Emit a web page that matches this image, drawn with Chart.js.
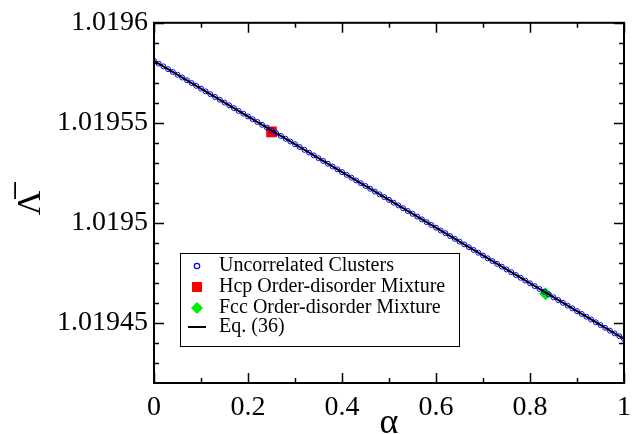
<!DOCTYPE html>
<html>
<head>
<meta charset="utf-8">
<script src="https://cdn.jsdelivr.net/npm/chart.js@4.4.1/dist/chart.umd.min.js"></script>
<style>
  html, body { margin: 0; padding: 0; background: #ffffff; }
  #wrap { width: 639px; height: 434px; }
</style>
</head>
<body>
<div id="wrap"><canvas id="c" width="639" height="434"></canvas></div>
<script>
// ---- data ----
const alphaValues = [
  0.00,0.01,0.02,0.03,0.04,0.05,0.06,0.07,0.08,0.09,
  0.10,0.11,0.12,0.13,0.14,0.15,0.16,0.17,0.18,0.19,
  0.20,0.21,0.22,0.23,0.24,0.25,0.26,0.27,0.28,0.29,
  0.30,0.31,0.32,0.33,0.34,0.35,0.36,0.37,0.38,0.39,
  0.40,0.41,0.42,0.43,0.44,0.45,0.46,0.47,0.48,0.49,
  0.50,0.51,0.52,0.53,0.54,0.55,0.56,0.57,0.58,0.59,
  0.60,0.61,0.62,0.63,0.64,0.65,0.66,0.67,0.68,0.69,
  0.70,0.71,0.72,0.73,0.74,0.75,0.76,0.77,0.78,0.79,
  0.80,0.81,0.82,0.83,0.84,0.85,0.86,0.87,0.88,0.89,
  0.90,0.91,0.92,0.93,0.94,0.95,0.96,0.97,0.98,0.99,
  1.00
];
const uncorrelatedLambda = [
  1.01958100,1.01957961,1.01957822,1.01957683,1.01957544,1.01957405,1.01957266,1.01957127,1.01956988,1.01956849,
  1.01956710,1.01956571,1.01956432,1.01956293,1.01956154,1.01956015,1.01955876,1.01955737,1.01955598,1.01955459,
  1.01955320,1.01955181,1.01955042,1.01954903,1.01954764,1.01954625,1.01954486,1.01954347,1.01954208,1.01954069,
  1.01953930,1.01953791,1.01953652,1.01953513,1.01953374,1.01953235,1.01953096,1.01952957,1.01952818,1.01952679,
  1.01952540,1.01952401,1.01952262,1.01952123,1.01951984,1.01951845,1.01951706,1.01951567,1.01951428,1.01951289,
  1.01951150,1.01951011,1.01950872,1.01950733,1.01950594,1.01950455,1.01950316,1.01950177,1.01950038,1.01949899,
  1.01949760,1.01949621,1.01949482,1.01949343,1.01949204,1.01949065,1.01948926,1.01948787,1.01948648,1.01948509,
  1.01948370,1.01948231,1.01948092,1.01947953,1.01947814,1.01947675,1.01947536,1.01947397,1.01947258,1.01947119,
  1.01946980,1.01946841,1.01946702,1.01946563,1.01946424,1.01946285,1.01946146,1.01946007,1.01945868,1.01945729,
  1.01945590,1.01945451,1.01945312,1.01945173,1.01945034,1.01944895,1.01944756,1.01944617,1.01944478,1.01944339,
  1.01944200
];
const hcpAlpha = [0.25];
const hcpLambda = [1.0195455];
const fccAlpha = [0.8333];
const fccLambda = [1.0194646];
const eqAlpha = [0, 1];
const eqLambda = [1.019581, 1.019442];

const seriesLabels = ['Uncorrelated Clusters', 'Hcp Order-disorder Mixture', 'Fcc Order-disorder Mixture', 'Eq. (36)'];
const xTickValues = [0, 0.2, 0.4, 0.6, 0.8, 1];
const xTickLabels = ['0', '0.2', '0.4', '0.6', '0.8', '1'];
const xMinorTicks = [0.1, 0.3, 0.5, 0.7, 0.9];
const yTickValues = [1.01945, 1.0195, 1.01955, 1.0196];
const yTickLabels = ['1.01945', '1.0195', '1.01955', '1.0196'];
const yMinorTicks = [1.01943, 1.01944, 1.01946, 1.01947, 1.01948, 1.01949, 1.01951, 1.01952, 1.01953, 1.01954, 1.01956, 1.01957, 1.01958, 1.01959];
const xRange = [0, 1];
const yRange = [1.01942, 1.0196];
const xTitle = 'α';
const yTitle = 'Λ\u0305';

const pts = (xs, ys) => xs.map((x, i) => ({x: x, y: ys[i]}));
const SERIF = "'Liberation Serif', 'Times New Roman', serif";

// frame, inward ticks, rotated y title and legend box
const decor = {
  id: 'decor',
  afterDatasetsDraw(chart) {
    const ctx = chart.ctx;
    const a = chart.chartArea;
    const xs = chart.scales.x, ys = chart.scales.y;
    ctx.save();
    ctx.strokeStyle = '#000';
    ctx.lineWidth = 1.5;
    const majL = 10, minL = 5;
    ctx.beginPath();
    xTickValues.forEach(v => {
      const p = Math.round(xs.getPixelForValue(v)) + 0.5;
      ctx.moveTo(p, a.bottom); ctx.lineTo(p, a.bottom - majL);
      ctx.moveTo(p, a.top); ctx.lineTo(p, a.top + majL);
    });
    xMinorTicks.forEach(v => {
      const p = Math.round(xs.getPixelForValue(v)) + 0.5;
      ctx.moveTo(p, a.bottom); ctx.lineTo(p, a.bottom - minL);
      ctx.moveTo(p, a.top); ctx.lineTo(p, a.top + minL);
    });
    yTickValues.forEach(v => {
      const p = Math.round(ys.getPixelForValue(v)) + 0.5;
      ctx.moveTo(a.left, p); ctx.lineTo(a.left + majL, p);
      ctx.moveTo(a.right, p); ctx.lineTo(a.right - majL, p);
    });
    yMinorTicks.forEach(v => {
      const p = Math.round(ys.getPixelForValue(v)) + 0.5;
      ctx.moveTo(a.left, p); ctx.lineTo(a.left + minL, p);
      ctx.moveTo(a.right, p); ctx.lineTo(a.right - minL, p);
    });
    ctx.stroke();
    ctx.lineWidth = 2;
    ctx.strokeRect(a.left, a.top, a.right - a.left, a.bottom - a.top);

    // y-axis title, rotated a quarter turn counter-clockwise
    ctx.save();
    ctx.translate(31, (a.top + a.bottom) / 2);
    ctx.rotate(-Math.PI / 2);
    ctx.font = '34px ' + SERIF;
    ctx.textAlign = 'center';
    ctx.textBaseline = 'middle';
    ctx.fillStyle = '#000';
    ctx.fillText(yTitle, 0, 0);
    ctx.restore();

    // legend
    const bx = 180.5, by = 253.5, bw = 279, bh = 93;
    ctx.fillStyle = '#fff';
    ctx.fillRect(bx, by, bw, bh);
    ctx.lineWidth = 1;
    ctx.strokeStyle = '#000';
    ctx.strokeRect(bx, by, bw, bh);
    const rows = [266, 287, 308, 327];
    const sx = 197, tx = 219;
    ctx.font = '20px ' + SERIF;
    ctx.textBaseline = 'middle';
    ctx.textAlign = 'left';
    ctx.fillStyle = '#000';
    seriesLabels.forEach((t, i) => ctx.fillText(t, tx, rows[i]));
    // symbols
    ctx.strokeStyle = '#0000ff'; ctx.lineWidth = 1.2;
    ctx.beginPath(); ctx.arc(sx, rows[0], 2.7, 0, Math.PI * 2); ctx.stroke();
    ctx.fillStyle = '#ff0000';
    ctx.fillRect(sx - 5, rows[1] - 5, 10, 10);
    ctx.fillStyle = '#00ee00';
    ctx.beginPath();
    ctx.moveTo(sx, rows[2] - 6); ctx.lineTo(sx + 6, rows[2]); ctx.lineTo(sx, rows[2] + 6); ctx.lineTo(sx - 6, rows[2]);
    ctx.closePath(); ctx.fill();
    ctx.strokeStyle = '#000'; ctx.lineWidth = 2;
    ctx.beginPath(); ctx.moveTo(sx - 9, rows[3]); ctx.lineTo(sx + 9, rows[3]); ctx.stroke();
    ctx.restore();
  }
};

new Chart(document.getElementById('c'), {
  type: 'scatter',
  data: {
    datasets: [
      { type: 'line', label: seriesLabels[3], data: pts(eqAlpha, eqLambda), borderColor: '#000', borderWidth: 2, pointRadius: 0, fill: false, order: 0 },
      { label: seriesLabels[0], data: pts(alphaValues, uncorrelatedLambda), pointStyle: 'circle', pointRadius: 2.5, borderColor: '#0000ff', backgroundColor: 'rgba(0,0,0,0)', pointBorderWidth: 1, borderWidth: 1, order: 1 },
      { label: seriesLabels[1], data: pts(hcpAlpha, hcpLambda), pointStyle: 'rect', pointRadius: 7.5, backgroundColor: '#ff0000', borderColor: '#ff0000', borderWidth: 0, order: 2 },
      { label: seriesLabels[2], data: pts(fccAlpha, fccLambda), pointStyle: 'rectRot', pointRadius: 6.5, backgroundColor: '#00ee00', borderColor: '#00ee00', borderWidth: 0, order: 2 }
    ]
  },
  options: {
    responsive: false,
    animation: false,
    events: [],
    layout: { padding: { top: 17, right: 13, left: 0, bottom: 0 } },
    plugins: { legend: { display: false }, tooltip: { enabled: false } },
    scales: {
      x: {
        type: 'linear', min: xRange[0], max: xRange[1],
        grid: { display: false, drawTicks: false },
        border: { display: false },
        afterBuildTicks: s => { s.ticks = xTickValues.map(v => ({value: v})); },
        afterFit: s => { s.height = 51; },
        ticks: {
          padding: 8, color: '#000', maxRotation: 0, autoSkip: false,
          font: { family: SERIF, size: 28 },
          callback: (v) => { const i = xTickValues.indexOf(v); return i >= 0 ? xTickLabels[i] : ''; }
        },
        title: { display: true, text: xTitle, color: '#000', font: { family: SERIF, size: 36, lineHeight: 0.6 }, padding: 0 }
      },
      y: {
        type: 'linear', min: yRange[0], max: yRange[1],
        grid: { display: false, drawTicks: false },
        border: { display: false },
        afterBuildTicks: s => { s.ticks = yTickValues.map(v => ({value: v})); },
        afterFit: s => { s.width = 154; },
        ticks: {
          padding: 6, color: '#000', autoSkip: false,
          font: { family: SERIF, size: 28 },
          callback: (v) => { const i = yTickValues.indexOf(v); return i >= 0 ? yTickLabels[i] : ''; }
        },
        title: { display: false }
      }
    }
  },
  plugins: [decor]
});
</script>
</body>
</html>
